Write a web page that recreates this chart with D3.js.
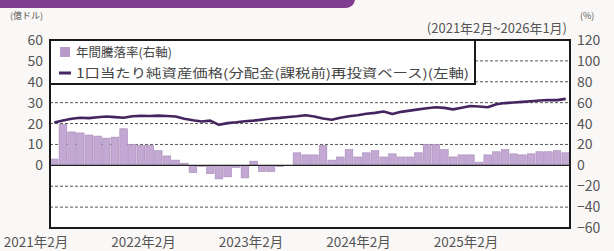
<!DOCTYPE html>
<html><head><meta charset="utf-8">
<script src="https://cdn.jsdelivr.net/npm/d3@7"></script>
<style>
html,body{margin:0;padding:0;background:#faf8f7;}
svg{display:block;font-family:"Noto Sans CJK JP","Noto Sans",sans-serif;}
</style></head>
<body><svg id="c" width="614" height="251"></svg>
<script>
// months Feb 2021 .. Jan 2026
const months = d3.range(60).map(i => { const m = (1 + i) % 12; const y = 2021 + Math.floor((1 + i) / 12); return y + "-" + String(m + 1).padStart(2, "0"); });
// annual return (%) right axis
const annualReturn = [6,39,32,31,29,28,26,27,35,20,19,19,14,9,5,2,-7,-1,-8,-13,-11,-2,-12,4,-6,-6,-1,0,12,10,10,19,5,8,15,8,12,14,8,11,8,8,12,20,20,15,8,10,10,3,10,13,15,11,10,11,13,13,14,12];
// NAV per unit (100 million USD) left axis
const nav = [20.5,21.5,22.3,22.8,22.6,23.0,23.4,23.1,22.8,23.5,23.7,23.6,23.8,23.6,23.4,22.3,21.6,21.0,21.4,19.4,20.2,20.6,21.1,21.4,21.9,22.4,22.7,23.1,23.5,24.0,23.4,22.4,21.8,22.8,23.5,24.0,24.7,25.1,25.8,24.6,25.6,26.2,26.8,27.3,27.8,27.5,26.8,27.6,28.4,28.2,27.8,29.2,29.8,30.1,30.4,30.7,31.0,31.3,31.2,31.8];
const leftTicks = [0,10,20,30,40,50,60];
const rightTicks = [-60,-40,-20,0,20,40,60,80,100,120];
const gridVals = [100,80,60,40,20,-20,-40];
const xLabels = ["2021年2月","2022年2月","2023年2月","2024年2月","2025年2月"];
const legendBar = "年間騰落率(右軸)";
const legendLine = "1口当たり純資産価格(分配金(課税前)再投資ベース)(左軸)";

const svg = d3.select("#c");
const L = 50, R = 570, T = 40, B = 228;
const x = d3.scaleBand().domain(months).range([L, R]).paddingInner(0.12).paddingOuter(0.05);
const yL = d3.scaleLinear().domain([-30, 60]).range([B, T]);
const yR = d3.scaleLinear().domain([-60, 120]).range([B, T]);

// header bar
svg.append("rect").attr("x", -20).attr("y", -20).attr("width", 375).attr("height", 28).attr("rx", 9).attr("fill", "#7e3d8e");

// plot bg
svg.append("rect").attr("x", L).attr("y", T).attr("width", R - L).attr("height", B - T).attr("fill", "#ffffff");

// grid
svg.append("g").selectAll("line").data(gridVals).join("line")
  .attr("x1", L).attr("x2", R).attr("y1", d => yR(d)).attr("y2", d => yR(d))
  .attr("stroke", "#555").attr("stroke-width", 1).attr("stroke-dasharray", "3,2");

// bars
svg.append("g").selectAll("rect").data(annualReturn).join("rect")
  .attr("x", (d, i) => x(months[i]))
  .attr("width", x.bandwidth())
  .attr("y", d => yR(Math.max(0, d)))
  .attr("height", d => Math.abs(yR(d) - yR(0)))
  .attr("fill", "#c3a8d3").attr("stroke", "#a487b6").attr("stroke-width", 0.6);

// zero line
svg.append("line").attr("x1", L).attr("x2", R).attr("y1", yR(0)).attr("y2", yR(0)).attr("stroke", "#222").attr("stroke-width", 1.3);

// nav line
svg.append("path").datum(nav)
  .attr("d", d3.line().x((d, i) => x(months[i]) + x.bandwidth() / 2).y(d => yL(d)))
  .attr("fill", "none").attr("stroke", "#45255f").attr("stroke-width", 2.6).attr("stroke-linejoin", "round");

// frame
svg.append("rect").attr("x", L).attr("y", T).attr("width", R - L).attr("height", B - T).attr("fill", "none").attr("stroke", "#1a1a1a").attr("stroke-width", 2);

// legend
const lg = svg.append("g");
lg.append("rect").attr("x", L).attr("y", T).attr("width", 425).attr("height", 44).attr("fill", "#fff").attr("stroke", "#1a1a1a").attr("stroke-width", 2);
lg.append("rect").attr("x", 60).attr("y", 47).attr("width", 10).attr("height", 10).attr("fill", "#b89bcb");
lg.append("line").attr("x1", 59).attr("x2", 71).attr("y1", 73).attr("y2", 73).attr("stroke", "#45255f").attr("stroke-width", 3);
lg.append("text").attr("x", 76).attr("y", 57).attr("font-size", 12.5).attr("fill", "#444").text(legendBar);
lg.append("text").attr("x", 76).attr("y", 78).attr("font-size", 12.5).attr("fill", "#444")
  .attr("textLength", 393).attr("lengthAdjust", "spacingAndGlyphs").text(legendLine);

// left axis labels
svg.append("g").selectAll("text").data(leftTicks).join("text")
  .attr("x", 43).attr("y", d => yL(d) + 5).attr("text-anchor", "end")
  .attr("font-size", 14).attr("fill", "#555").text(d => d);
// right axis labels
svg.append("g").selectAll("text").data(rightTicks).join("text")
  .attr("x", 577).attr("y", d => yR(d) + 5).attr("text-anchor", "start")
  .attr("font-size", 14).attr("fill", "#555").text(d => d < 0 ? "−" + Math.abs(d) : d);

// units
svg.append("text").attr("x", 10).attr("y", 19).attr("font-size", 9).attr("fill", "#555").text("(億ドル)");
svg.append("text").attr("x", 580).attr("y", 19).attr("font-size", 9).attr("fill", "#555").text("(%)");
svg.append("text").attr("x", 567).attr("y", 33).attr("text-anchor", "end").attr("font-size", 13).attr("fill", "#555").text("(2021年2月~2026年1月)");

// x labels
const xl = d3.scalePoint().domain(xLabels).range([36, 466]);
svg.append("g").selectAll("text").data(xLabels).join("text")
  .attr("x", d => xl(d)).attr("y", 247).attr("text-anchor", "middle")
  .attr("font-size", 13.5).attr("fill", "#555").text(d => d);
</script></body></html>
